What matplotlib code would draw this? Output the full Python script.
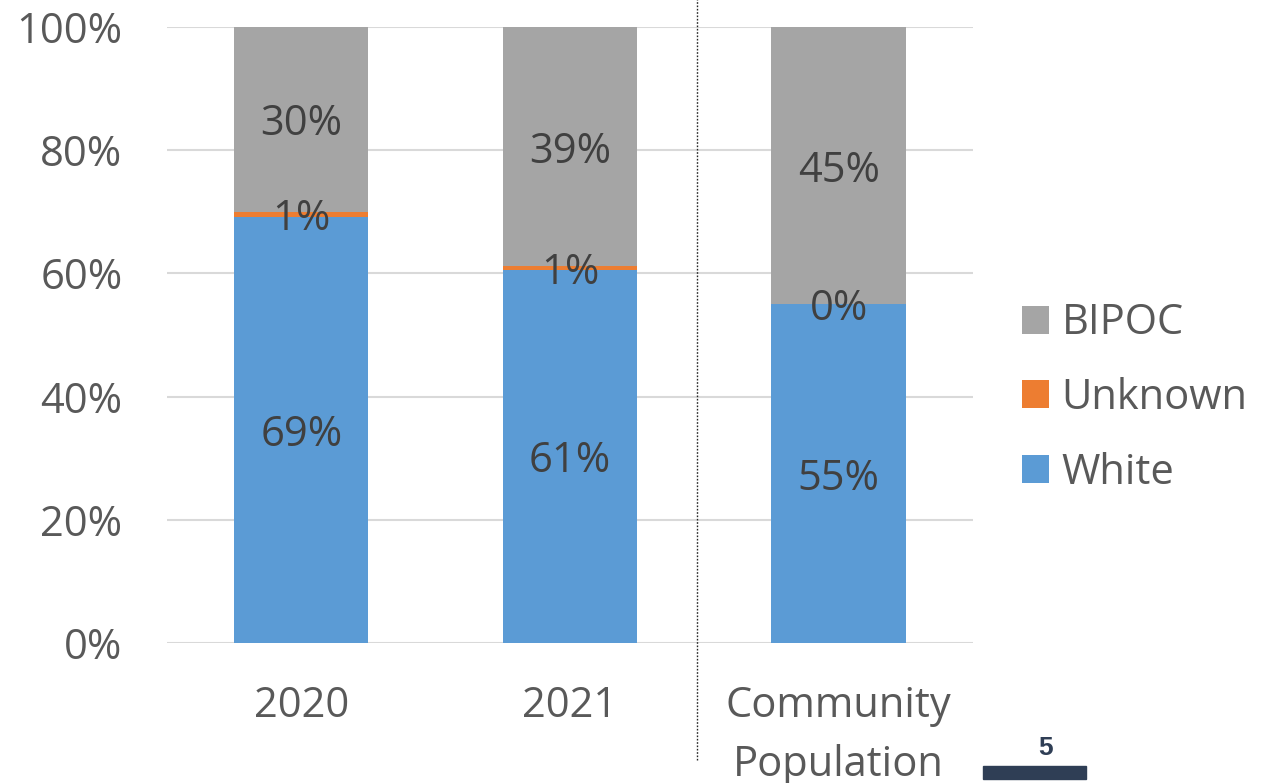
import matplotlib.pyplot as plt
from matplotlib.patches import Rectangle

plt.rcParams['font.family'] = ['Open Sans', 'DejaVu Sans']

categories = ['2020', '2021', 'Community\nPopulation']
white = [69.2, 60.6, 55.0]
unknown = [0.8, 0.6, 0.0]
bipoc = [30.0, 38.8, 45.0]
yticks = [0, 20, 40, 60, 80, 100]

c_white = '#5B9BD5'
c_unknown = '#ED7D31'
c_bipoc = '#A5A5A5'
txt = '#595959'
lab = '#404040'
fs = 30

fig = plt.figure(figsize=(12.71, 7.83), dpi=100)
ax = fig.add_axes([167 / 1271, 1 - 643 / 783, 806 / 1271, 616 / 783])

x = range(len(categories))
b1 = ax.bar(x, white, 0.5, color=c_white, label='White', zorder=2)
b2 = ax.bar(x, unknown, 0.5, bottom=white, color=c_unknown, label='Unknown', zorder=2)
bot3 = [w + u for w, u in zip(white, unknown)]
b3 = ax.bar(x, bipoc, 0.5, bottom=bot3, color=c_bipoc, label='BIPOC', zorder=2)

# data labels centred in each segment
for i in x:
    ax.text(i, white[i] / 2, f'{white[i]:.0f}%', ha='center', va='center_baseline',
            fontsize=fs, color=lab, zorder=3)
    ax.text(i, white[i] + unknown[i] / 2, f'{unknown[i]:.0f}%', ha='center',
            va='center_baseline', fontsize=fs, color=lab, zorder=3)
    ax.text(i, bot3[i] + bipoc[i] / 2, f'{bipoc[i]:.0f}%', ha='center', va='center_baseline',
            fontsize=fs, color=lab, zorder=3)

ax.set_xlim(-0.5, 2.5)
ax.set_ylim(0, 100)
ax.set_yticks(yticks)
ax.set_yticklabels([f'{t}%' for t in yticks])
ax.set_xticks(list(x))
ax.set_xticklabels(categories, linespacing=1.55, va='top')
ax.tick_params(axis='y', length=0, pad=32, labelsize=fs, labelcolor=txt)
ax.tick_params(axis='x', length=0, pad=30, labelsize=fs, labelcolor=txt)
ax.grid(axis='y', color='#D9D9D9', linewidth=1.5, zorder=0)
for s in ax.spines.values():
    s.set_visible(False)

# dotted separator between years and community
ax.axvline(1.473, ymin=-0.19, ymax=1.05, color='#262626', linestyle=(0, (1.2, 1.2)),
           linewidth=1, clip_on=False)

handles = [b3, b2, b1]
leg = fig.legend(handles, ['BIPOC', 'Unknown', 'White'], loc='center left',
                 bbox_to_anchor=(1022 / 1271, 1 - 398 / 783), frameon=False,
                 borderpad=0, borderaxespad=0,
                 fontsize=fs, labelcolor=txt, handlelength=0.65, handleheight=0.65,
                 handletextpad=0.3, labelspacing=0.78)

# page number
fig.text(1046 / 1271, 1 - 748 / 783, '5', ha='center', va='center', fontsize=19,
         fontweight='bold', color='#2F3E55', family=['Liberation Sans', 'DejaVu Sans'])
fig.patches.append(Rectangle((983 / 1271, 1 - 779 / 783), 103 / 1271, 13 / 783,
                             transform=fig.transFigure, color='#2F3E55'))

fig.savefig('out.png', dpi=100)
